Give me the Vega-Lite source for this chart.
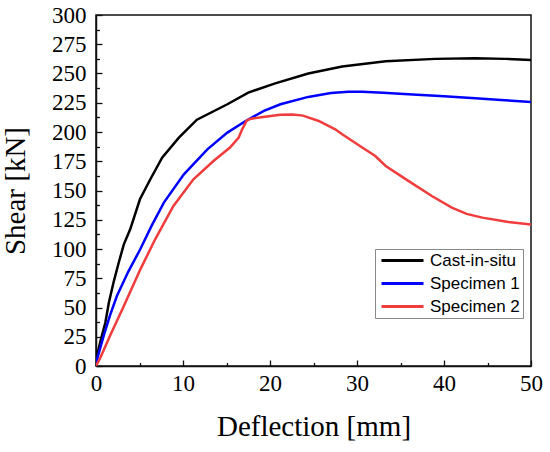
{
  "$schema": "https://vega.github.io/schema/vega-lite/v6.json",
  "width": 435,
  "height": 351,
  "autosize": {"type": "none"},
  "padding": {"left": 96, "top": 15, "right": 19, "bottom": 86},
  "background": "white",
  "data": {
    "values": [
      {"series": "Cast-in-situ", "x": 0, "y": 0},
      {"series": "Cast-in-situ", "x": 0.1, "y": 8},
      {"series": "Cast-in-situ", "x": 0.5, "y": 21},
      {"series": "Cast-in-situ", "x": 1.07, "y": 37},
      {"series": "Cast-in-situ", "x": 1.5, "y": 55},
      {"series": "Cast-in-situ", "x": 2.0, "y": 71},
      {"series": "Cast-in-situ", "x": 2.6, "y": 88},
      {"series": "Cast-in-situ", "x": 3.2, "y": 104},
      {"series": "Cast-in-situ", "x": 3.94, "y": 117},
      {"series": "Cast-in-situ", "x": 5.05, "y": 142.5},
      {"series": "Cast-in-situ", "x": 6.2, "y": 159},
      {"series": "Cast-in-situ", "x": 7.6, "y": 178},
      {"series": "Cast-in-situ", "x": 9.5, "y": 195},
      {"series": "Cast-in-situ", "x": 11.6, "y": 210.5},
      {"series": "Cast-in-situ", "x": 15.1, "y": 223.7},
      {"series": "Cast-in-situ", "x": 17.5, "y": 233.7},
      {"series": "Cast-in-situ", "x": 20.6, "y": 241.6},
      {"series": "Cast-in-situ", "x": 24.4, "y": 250},
      {"series": "Cast-in-situ", "x": 28.3, "y": 256},
      {"series": "Cast-in-situ", "x": 33.3, "y": 260.5},
      {"series": "Cast-in-situ", "x": 39, "y": 262.5},
      {"series": "Cast-in-situ", "x": 43.6, "y": 263},
      {"series": "Cast-in-situ", "x": 47, "y": 262.5},
      {"series": "Cast-in-situ", "x": 50, "y": 261.5},
      {"series": "Specimen 1", "x": 0, "y": 0},
      {"series": "Specimen 1", "x": 0.1, "y": 5},
      {"series": "Specimen 1", "x": 0.87, "y": 25.6},
      {"series": "Specimen 1", "x": 1.6, "y": 43},
      {"series": "Specimen 1", "x": 2.4, "y": 59.8},
      {"series": "Specimen 1", "x": 3.7, "y": 80.5},
      {"series": "Specimen 1", "x": 5.1, "y": 100},
      {"series": "Specimen 1", "x": 6.4, "y": 120},
      {"series": "Specimen 1", "x": 7.8, "y": 139.7},
      {"series": "Specimen 1", "x": 10.1, "y": 163.8},
      {"series": "Specimen 1", "x": 12.8, "y": 185.2},
      {"series": "Specimen 1", "x": 15.1, "y": 199.5},
      {"series": "Specimen 1", "x": 17.2, "y": 209.4},
      {"series": "Specimen 1", "x": 19.3, "y": 218},
      {"series": "Specimen 1", "x": 21.2, "y": 223.7},
      {"series": "Specimen 1", "x": 24.4, "y": 230},
      {"series": "Specimen 1", "x": 27, "y": 233.3},
      {"series": "Specimen 1", "x": 29, "y": 234.5},
      {"series": "Specimen 1", "x": 30.6, "y": 234.5},
      {"series": "Specimen 1", "x": 33, "y": 233.5},
      {"series": "Specimen 1", "x": 35.9, "y": 232.2},
      {"series": "Specimen 1", "x": 40, "y": 230.5},
      {"series": "Specimen 1", "x": 43.6, "y": 228.8},
      {"series": "Specimen 1", "x": 47, "y": 227.2},
      {"series": "Specimen 1", "x": 50, "y": 225.6},
      {"series": "Specimen 2", "x": 0, "y": 0},
      {"series": "Specimen 2", "x": 0.5, "y": 7},
      {"series": "Specimen 2", "x": 1.6, "y": 25.6},
      {"series": "Specimen 2", "x": 3.2, "y": 51.3},
      {"series": "Specimen 2", "x": 5.1, "y": 82.6},
      {"series": "Specimen 2", "x": 6.8, "y": 108.3},
      {"series": "Specimen 2", "x": 8.9, "y": 136.8},
      {"series": "Specimen 2", "x": 11.2, "y": 159.6},
      {"series": "Specimen 2", "x": 13.5, "y": 175.2},
      {"series": "Specimen 2", "x": 15.4, "y": 186.7},
      {"series": "Specimen 2", "x": 16.4, "y": 195.2},
      {"series": "Specimen 2", "x": 16.8, "y": 202.3},
      {"series": "Specimen 2", "x": 17.3, "y": 209.4},
      {"series": "Specimen 2", "x": 17.7, "y": 211.2},
      {"series": "Specimen 2", "x": 19.2, "y": 212.8},
      {"series": "Specimen 2", "x": 21.2, "y": 214.8},
      {"series": "Specimen 2", "x": 22.6, "y": 215},
      {"series": "Specimen 2", "x": 23.8, "y": 214},
      {"series": "Specimen 2", "x": 25.6, "y": 209.4},
      {"series": "Specimen 2", "x": 27.5, "y": 202.3},
      {"series": "Specimen 2", "x": 28.3, "y": 198},
      {"series": "Specimen 2", "x": 30.6, "y": 186.7},
      {"series": "Specimen 2", "x": 32.1, "y": 179.5},
      {"series": "Specimen 2", "x": 33.3, "y": 171},
      {"series": "Specimen 2", "x": 35.9, "y": 158.2},
      {"series": "Specimen 2", "x": 38.6, "y": 145.3},
      {"series": "Specimen 2", "x": 40.9, "y": 135.4},
      {"series": "Specimen 2", "x": 42.6, "y": 130},
      {"series": "Specimen 2", "x": 44.4, "y": 126.8},
      {"series": "Specimen 2", "x": 47.4, "y": 123},
      {"series": "Specimen 2", "x": 50, "y": 121}
    ]
  },
  "mark": {"type": "line", "strokeWidth": 2.5, "clip": true},
  "encoding": {
    "x": {
      "field": "x",
      "type": "quantitative",
      "scale": {"domain": [0, 50], "nice": false},
      "axis": {
        "title": "Deflection [mm]",
        "values": [0, 5, 10, 15, 20, 25, 30, 35, 40, 45, 50],
        "labelExpr": "datum.value % 10 === 0 ? datum.label : ''",
        "tickSize": {"condition": {"test": "datum.value % 10 === 0", "value": -6}, "value": -3.5},
        "labelFlush": false,
        "labelPadding": 12,
        "titlePadding": 17
      }
    },
    "y": {
      "field": "y",
      "type": "quantitative",
      "scale": {"domain": [0, 300], "nice": false},
      "axis": {
        "title": "Shear [kN]",
        "values": [0, 12.5, 25, 37.5, 50, 62.5, 75, 87.5, 100, 112.5, 125, 137.5, 150, 162.5, 175, 187.5, 200, 212.5, 225, 237.5, 250, 262.5, 275, 287.5, 300],
        "labelExpr": "datum.value % 25 === 0 ? datum.label : ''",
        "tickSize": {"condition": {"test": "datum.value % 25 === 0", "value": -6}, "value": -3.5},
        "labelFlush": false,
        "labelPadding": 16,
        "titlePadding": 21
      }
    },
    "color": {
      "field": "series",
      "type": "nominal",
      "scale": {
        "domain": ["Cast-in-situ", "Specimen 1", "Specimen 2"],
        "range": ["#000000", "#0000ff", "#f03c3c"]
      },
      "legend": {
        "title": null,
        "orient": "none",
        "legendX": 279,
        "legendY": 234,
        "symbolType": "M-1,0H7.4",
        "symbolSize": 100,
        "symbolStrokeWidth": 3,
        "labelFont": "Liberation Sans",
        "labelFontSize": 17,
        "labelColor": "#000",
        "labelOffset": 35,
        "rowPadding": 5,
        "padding": 3,
        "strokeColor": "#888",
        "fillColor": "white"
      }
    }
  },
  "config": {
    "view": {"stroke": "#111", "strokeWidth": 1.5},
    "axis": {
      "grid": false,
      "domainColor": "#111",
      "domainWidth": 1.5,
      "tickColor": "#111",
      "tickWidth": 1.3,
      "labelFont": "Liberation Serif",
      "labelFontSize": 23,
      "labelColor": "#000",
      "titleFont": "Liberation Serif",
      "titleFontSize": 29,
      "titleFontWeight": "normal",
      "titleColor": "#000"
    }
  }
}
